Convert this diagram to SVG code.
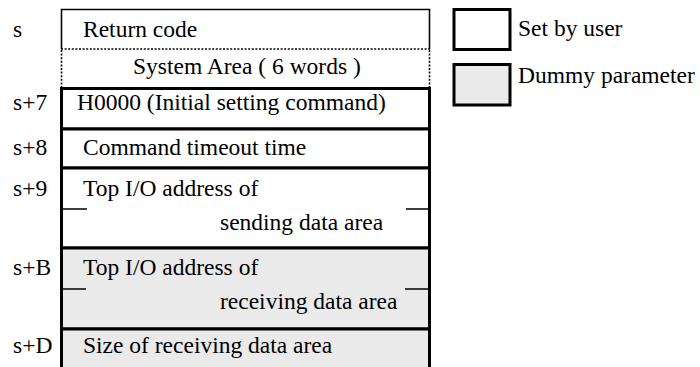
<svg xmlns="http://www.w3.org/2000/svg" width="700" height="367" viewBox="0 0 700 367">
<style>
text{font-family:"Liberation Serif","Times New Roman",serif;font-size:23.5px;fill:#000}
.thin{fill:none;stroke:#000;stroke-width:1.6}
.dot{fill:none;stroke:#000;stroke-width:1.6;stroke-dasharray:2 1.6}
.user{fill:#fff;stroke:#000;stroke-width:3}
.dummy{fill:#eaeaea;stroke:#000;stroke-width:3}
.tick{stroke:#000;stroke-width:1.5}
</style>
<rect width="700" height="367" fill="#fff"/>
<g id="row-s">
<path class="thin" d="M61.5,49 V9.5 H429.5 V49"/>
<text x="13" y="37">s</text>
<text x="83" y="37">Return code</text>
</g>
<g id="row-system">
<path class="dot" d="M61,49 H430 M61.5,50 V87 M429.5,50 V87"/>
<text x="133" y="74">System Area ( 6 words )</text>
</g>
<g id="row-s7">
<rect class="user" x="61.5" y="88.5" width="368" height="40.5"/>
<text x="13" y="110">s+7</text>
<text x="77" y="110">H0000 (Initial setting command)</text>
</g>
<g id="row-s8">
<rect class="user" x="61.5" y="129" width="368" height="39"/>
<text x="13" y="155">s+8</text>
<text x="83" y="155">Command timeout time</text>
</g>
<g id="row-s9">
<rect class="user" x="61.5" y="168" width="368" height="80"/>
<text x="13" y="196">s+9</text>
<text x="83" y="196">Top I/O address of</text>
<text x="220" y="230">sending data area</text>
</g>
<g id="row-sB">
<rect class="dummy" x="61.5" y="248" width="368" height="81"/>
<text x="13" y="275">s+B</text>
<text x="83" y="275">Top I/O address of</text>
<text x="220" y="309">receiving data area</text>
</g>
<g id="row-sD">
<rect class="dummy" x="61.5" y="329" width="368" height="50"/>
<text x="13" y="353">s+D</text>
<text x="83" y="353">Size of receiving data area</text>
</g>
<g id="connectors">
<path class="tick" d="M62,209 H87 M406,209 H429 M62,289 H86 M405,289 H429"/>
</g>
<g id="legend-user">
<rect class="user" x="454" y="9.5" width="56" height="40"/>
<text x="518" y="36">Set by user</text>
</g>
<g id="legend-dummy">
<rect class="dummy" x="454" y="64.5" width="56" height="40.5"/>
<text x="518" y="83">Dummy parameter</text>
</g>
</svg>
